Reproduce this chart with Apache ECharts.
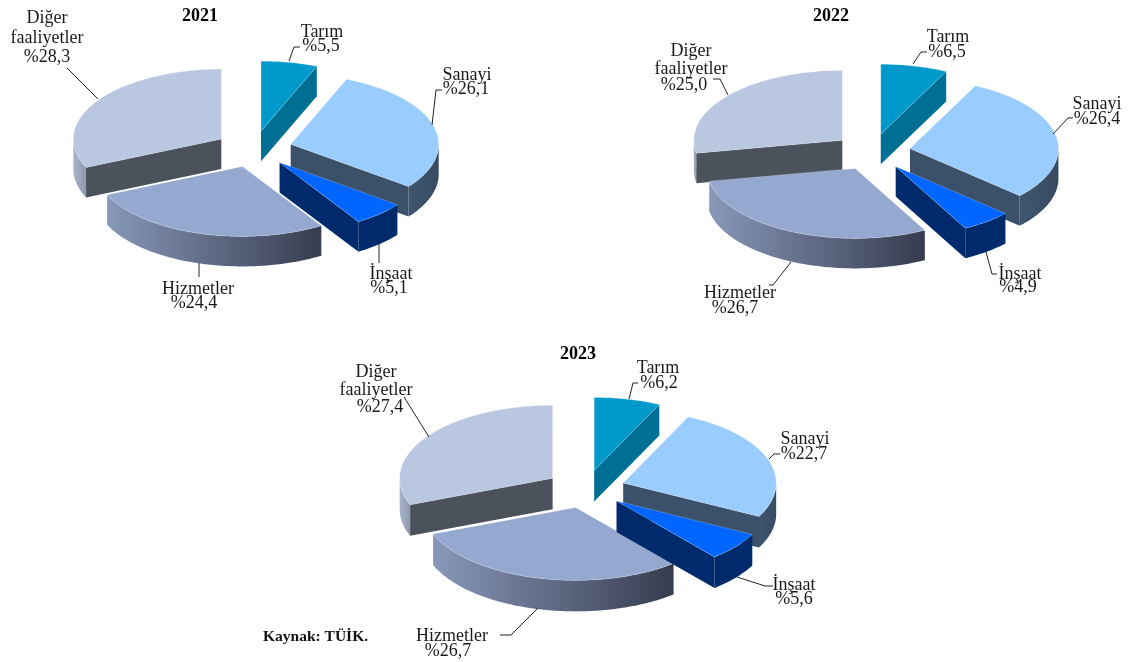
<!DOCTYPE html>
<html><head><meta charset="utf-8">
<style>html,body{margin:0;padding:0;background:#fff}#c{width:1131px;height:662px}</style>
<script src="https://cdn.jsdelivr.net/npm/echarts@6/dist/echarts.min.js"></script>
</head><body><div id="c"></div>
<script>
const categories = ['Tarım', 'Sanayi', 'İnşaat', 'Hizmetler', 'Diğer\nfaaliyetler'];
const years = ['2021', '2022', '2023'];
const values2021 = [5.5, 26.1, 5.1, 24.4, 28.3];
const values2022 = [6.5, 26.4, 4.9, 26.7, 25.0];
const values2023 = [6.2, 22.7, 5.6, 26.7, 27.4];
const allValues = [values2021, values2022, values2023];
const source = 'Kaynak: TÜİK.';

// Layout and style only, no data below this line
const FONT = '"Liberation Serif","Times New Roman",serif';
const drawOrder = [0, 1, 4, 3, 2];
const explode = 0.26;
const pies = [
  {cx: 253.6, cy: 149, rx: 148, ry: 70, h: 30, tx: 200, ty: 7},
  {cx: 872, cy: 152, rx: 148.5, ry: 70, h: 30, tx: 831, ty: 7},
  {cx: 585.5, cy: 489, rx: 153, ry: 73, h: 31, tx: 578, ty: 345}
];
const palette = [
  {top: '#0099CC', face: '#006F94', wall: ['#006F94', '#006F94']},
  {top: '#99CCFF', face: '#3B5069', wall: ['#3F566F', '#374B62']},
  {top: '#0066FF', face: '#002A6B', wall: ['#002A6B', '#002A6B']},
  {top: '#95A9D0', face: '#5E6B85', wall: ['#8798BA', '#363C4E']},
  {top: '#B9C7E0', face: '#4B525C', wall: ['#A9B4C9', '#8F99AD']}
];
// label line centres [x, y] and leader points per pie, per category
const labelPos = [
  [[[322,32],[321,46]], [[467,75],[466,89]], [[391,274],[389,288]], [[198,289],[194,303]], [[47,18],[47,38],[47,57]]],
  [[[948,37],[947,52]], [[1097,104],[1097,119]], [[1020,274],[1018,287]], [[740,293],[735,308]], [[691,51],[691,69],[684,85]]],
  [[[658,368],[659,383]], [[805,439],[804,454]], [[794,585],[794,599]], [[452,636],[448,651]], [[376,372],[376,390],[380,407]]]
];
const leaders = [
  [[[289,61],[294,47],[300,47]], [[432,125],[436,90],[442,90]], [[379,244],[379,263]], [[199,263],[199,277]], [[67,68],[98,99]]],
  [[[913,64],[921,52],[927,52]], [[1053,134],[1068,118],[1073,118]], [[986,252],[992,274],[997,274]], [[791,262],[773,285],[769,285]], [[713,79],[720,79],[728,95]]],
  [[[629,399],[633,383],[638,383]], [[769,459],[774,454],[780,454]], [[737,577],[765,586],[773,586]], [[538,608],[511,635],[500,635]], [[404,397],[429,437]]]
];

function fmt(v) { return '%' + v.toFixed(1).replace('.', ','); }

function makeRender(pieIdx) {
  const p = pies[pieIdx];
  const vals = allValues[pieIdx];
  const total = vals.reduce((a, b) => a + b, 0);
  return function (params, api) {
    const idx = api.value(1);
    const v = api.value(0);
    let before = 0;
    for (let i = 0; i < idx; i++) before += vals[i];
    const a = before / total * 360, b = (before + v) / total * 360;
    const mid = (a + b) / 2 * Math.PI / 180;
    const ax = p.cx + explode * p.rx * Math.sin(mid);
    const ay = p.cy - explode * p.ry * Math.cos(mid);
    const pt = (deg, dz) => {
      const t = deg * Math.PI / 180;
      return [ax + p.rx * Math.sin(t), ay - p.ry * Math.cos(t) + (dz || 0)];
    };
    const arc = (s, e, dz) => {
      const out = [];
      const n = Math.max(2, Math.ceil(Math.abs(e - s)));
      for (let i = 0; i <= n; i++) out.push(pt(s + (e - s) * i / n, dz));
      return out;
    };
    const c = palette[idx];
    const kids = [];
    // outer wall
    const ws = Math.max(a, 90), we = Math.min(b, 270);
    if (we > ws) {
      const pts = arc(ws, we, 0).concat(arc(we, ws, p.h));
      kids.push({type: 'polygon', shape: {points: pts}, style: {
        fill: new echarts.graphic.LinearGradient(1, 0, 0, 0, [
          {offset: 0, color: c.wall[1]},
          {offset: 1, color: c.wall[0]}
        ])
      }});
    }
    // cut faces
    const face = deg => [[ax, ay], pt(deg), pt(deg, p.h), [ax, ay + p.h]];
    if (a >= 180 && a < 360) kids.push({type: 'polygon', shape: {points: face(a)}, style: {fill: c.face}});
    if (b > 0 && b <= 180) kids.push({type: 'polygon', shape: {points: face(b)}, style: {fill: c.face}});
    // top
    kids.push({type: 'polygon', shape: {points: [[ax, ay]].concat(arc(a, b, 0))},
      style: {fill: c.top, stroke: 'rgba(255,255,255,0.22)', lineWidth: 1}});
    // leader
    kids.push({type: 'polyline', shape: {points: leaders[pieIdx][idx]},
      style: {fill: 'none', stroke: '#222', lineWidth: 1}});
    // label
    const lines = categories[idx].split('\n').concat(fmt(v));
    lines.forEach((t, i) => {
      const q = labelPos[pieIdx][idx][i];
      kids.push({type: 'text', z2: 10, style: {text: t, x: q[0], y: q[1], align: 'center', verticalAlign: 'middle',
        font: '18px ' + FONT, fill: '#1a1a1a'}});
    });
    return {type: 'group', children: kids};
  };
}

const chart = echarts.init(document.getElementById('c'), null, {renderer: 'canvas'});
chart.setOption({
  animation: false,
  backgroundColor: '#fff',
  title: years.map((y, i) => ({
    text: y, left: pies[i].tx, top: pies[i].ty, textAlign: 'center', padding: 0,
    textStyle: {fontFamily: FONT, fontSize: 18, fontWeight: 'bold', color: '#000'}
  })),
  graphic: [{type: 'text', left: 263, top: 629, style: {text: source, font: 'bold 15.5px ' + FONT, fill: '#111'}}],
  series: years.map((y, i) => ({
    type: 'custom', name: y, coordinateSystem: 'none', silent: true,
    renderItem: makeRender(i),
    data: drawOrder.map(k => [allValues[i][k], k])
  }))
});
</script></body></html>
